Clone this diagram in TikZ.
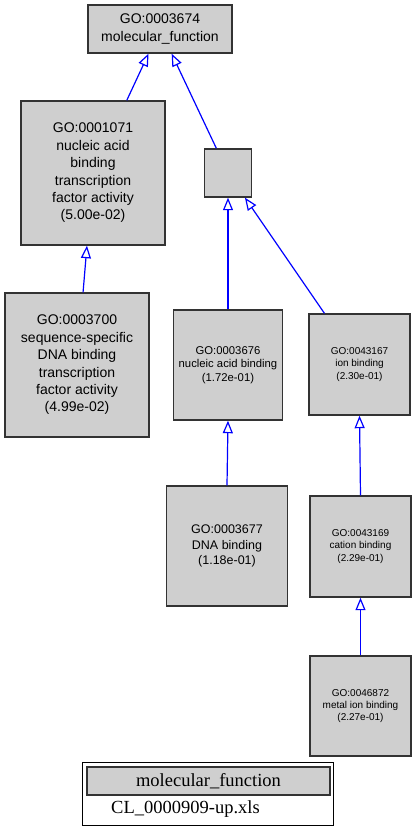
\documentclass[tikz,border=0pt]{standalone}
\usepackage{fontspec}
\setmainfont{Liberation Serif}
\newfontfamily\arial{Liberation Sans}
\usetikzlibrary{arrows.meta}
\definecolor{gofill}{RGB}{207,207,207}
\definecolor{goedge}{RGB}{0,0,255}
\definecolor{goborder}{RGB}{51,51,51}
\begin{document}
\begin{tikzpicture}[x=1pt,y=-1pt,
  gobox/.style={draw=goborder, fill=gofill, line width=1.4pt, inner sep=0pt, align=center, font=\arial},
  isa/.style={draw=goedge, line width=1.2pt, -{Triangle[open, length=12.5pt, width=10pt, line width=1.2pt]}},
  big/.style={font=\arial\fontsize{14}{17.4}\selectfont},
  mid/.style={font=\arial\fontsize{12.5}{15.2}\selectfont},
  smalla/.style={font=\arial\fontsize{11.3}{13.5}\selectfont},
  tiny/.style={font=\arial\fontsize{10}{12.3}\selectfont}]
\useasboundingbox (0,0) rectangle (417,836);
\fill[white] (0,0) rectangle (417,836);

\node[gobox, big, minimum width=144pt, minimum height=48pt] (mf) at (160,29) {GO:0003674\\molecular\_function};
\node[gobox, big, minimum width=144pt, minimum height=144pt] (n1071) at (93,173) {GO:0001071\\nucleic acid\\binding\\transcription\\factor activity\\(5.00e-02)};
\node[gobox, minimum width=47pt, minimum height=48pt] (blank) at (228,173) {};
\node[gobox, big, minimum width=144pt, minimum height=144pt] (n3700) at (77,365) {GO:0003700\\sequence-specific\\DNA binding\\transcription\\factor activity\\(4.99e-02)};
\node[gobox, smalla, minimum width=109pt, minimum height=110pt] (n3676) at (228,365) {GO:0003676\\nucleic acid binding\\(1.72e-01)};
\node[gobox, tiny, minimum width=101pt, minimum height=101pt] (n43167) at (359.5,364.5) {GO:0043167\\ion binding\\(2.30e-01)};
\node[gobox, mid, minimum width=121pt, minimum height=120pt] (n3677) at (227,546) {GO:0003677\\DNA binding\\(1.18e-01)};
\node[gobox, tiny, minimum width=101pt, minimum height=101pt] (n43169) at (360.5,546.5) {GO:0043169\\cation binding\\(2.29e-01)};
\node[gobox, tiny, minimum width=101pt, minimum height=100pt] (n46872) at (360.5,706) {GO:0046872\\metal ion binding\\(2.27e-01)};

\draw[isa] (n1071) -- (mf);
\draw[isa] (blank) -- (mf);
\draw[isa] (n3700) -- (n1071);
\draw[isa] (n3676.north) -- (blank.south);
\draw[isa] (n43167) -- (blank);
\draw[isa] (n3677.north) -- (n3676.south);
\draw[isa] (n43169.north) -- (n43167.south);
\draw[isa] (n46872.north) -- (n43169.south);

\node[draw=black, line width=1pt, minimum width=251pt, minimum height=63pt, inner sep=0pt] (legend) at (207.5,793.5) {};
\node[draw=goborder, fill=gofill, line width=1.2pt, minimum width=243pt, minimum height=28pt, inner sep=0pt, font=\fontsize{18.5}{20}\selectfont] (legtitle) at (208.5,781) {molecular\_function};
\node[anchor=west, inner sep=0pt, font=\fontsize{18.5}{20}\selectfont] (legfile) at (111,809) {CL\_0000909-up.xls};
\end{tikzpicture}
\end{document}
